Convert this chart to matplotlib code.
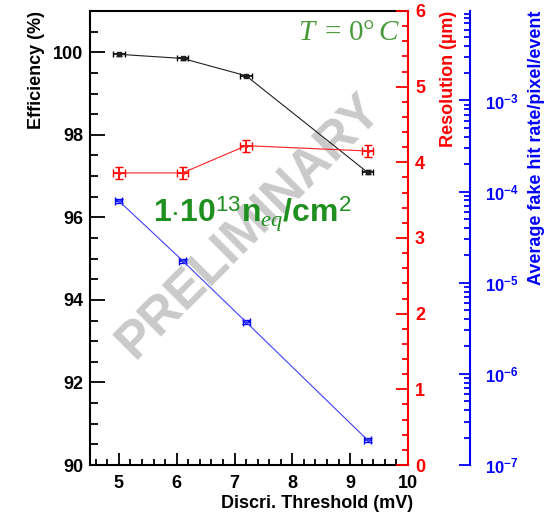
import numpy as np
import matplotlib
matplotlib.use("Agg")
import matplotlib.pyplot as plt
from matplotlib.ticker import MultipleLocator, LogLocator, NullFormatter

plt.rcParams['font.family'] = ['Liberation Sans', 'DejaVu Sans']
plt.rcParams['font.weight'] = 'bold'
plt.rcParams['mathtext.fontset'] = 'custom'
plt.rcParams['mathtext.rm'] = 'Liberation Sans:weight=normal'
plt.rcParams['mathtext.bf'] = 'Liberation Sans:weight=bold'
plt.rcParams['mathtext.it'] = 'Liberation Serif:italic:weight=normal'
plt.rcParams['mathtext.sf'] = 'Liberation Serif:weight=normal'

# data
threshold = [5.0, 6.1, 7.2, 9.3]
threshold_err = [0.1, 0.1, 0.1, 0.1]
efficiency = [99.95, 99.85, 99.43, 97.09]
efficiency_err = [0.03, 0.03, 0.03, 0.05]
resolution = [3.86, 3.86, 4.22, 4.15]
resolution_err = [0.08, 0.08, 0.08, 0.08]
fake_rate = [7.9e-5, 1.75e-5, 3.7e-6, 1.88e-7]
fake_rate_err = [4e-6, 9e-7, 2e-7, 1e-8]

fig = plt.figure(figsize=(5.58, 5.18), dpi=100)
ax = fig.add_axes([0.1613, 0.1023, 0.5699, 0.8765])

# efficiency (left, black)
ax.errorbar(threshold, efficiency, xerr=threshold_err, yerr=efficiency_err,
            color='#202020', ecolor='black', lw=0.8, elinewidth=1.2, capsize=2.5,
            marker='s', ms=2.5, zorder=3)
ax.set_xlim(4.5, 10)
ax.set_ylim(90, 101)
ax.xaxis.set_major_locator(MultipleLocator(1))
ax.xaxis.set_minor_locator(MultipleLocator(0.2))
ax.yaxis.set_major_locator(MultipleLocator(2))
ax.yaxis.set_minor_locator(MultipleLocator(0.5))
ax.tick_params(axis='both', which='both', direction='in', labelsize=13, width=1.3)
ax.tick_params(axis='y', which='major', length=11, pad=5)
ax.tick_params(axis='y', which='minor', length=6)
ax.tick_params(axis='x', which='major', length=9, pad=7)
ax.tick_params(axis='x', which='minor', length=4.5)
for s in ['left', 'bottom', 'top']:
    ax.spines[s].set_linewidth(1.5)
ax.spines['right'].set_visible(False)
ax.set_xlabel('Discri. Threshold (mV)', fontsize=13, fontweight='bold', loc='right')
ax.xaxis.set_label_coords(1.016, -0.066)
ax.set_ylabel('Efficiency (%)', fontsize=13, fontweight='bold', loc='top')
ax.yaxis.set_label_coords(-0.14, 1.0)

# resolution (first right axis, red)
ax2 = ax.twinx()
ax2.errorbar(threshold, resolution, xerr=threshold_err, yerr=resolution_err,
             color='#ff2020', ecolor='red', lw=0.8, elinewidth=1.3, capsize=3,
             marker='s', ms=2, zorder=3)
ax2.set_ylim(0, 6)
ax2.yaxis.set_major_locator(MultipleLocator(1))
ax2.yaxis.set_minor_locator(MultipleLocator(0.2))
ax2.tick_params(axis='y', which='both', direction='in', colors='red',
                labelsize=13, width=1.3, pad=5)
ax2.tick_params(axis='y', which='major', length=9)
ax2.tick_params(axis='y', which='minor', length=4.5)
for s in ['left', 'bottom', 'top']:
    ax2.spines[s].set_visible(False)
ax2.spines['right'].set_color('red')
ax2.spines['right'].set_linewidth(1.5)
ax2.set_ylabel('Resolution (\u00b5m)', color='red', fontsize=13, fontweight='bold', loc='top')
ax2.yaxis.set_label_coords(1.10, 1.0)

# fake hit rate (second right axis, blue, log)
ax3 = ax.twinx()
ax3.errorbar(threshold, fake_rate, xerr=[0.06] * 4, yerr=fake_rate_err,
             color='#4040ff', ecolor='blue', lw=0.8, elinewidth=1.3, capsize=3,
             marker='s', ms=2, zorder=3)
ax3.set_yscale('log')
ax3.set_ylim(1e-7, 9.6e-3)
ax3.spines['right'].set_position(('axes', 1.195))
for s in ['left', 'bottom', 'top']:
    ax3.spines[s].set_visible(False)
ax3.spines['right'].set_color('blue')
ax3.spines['right'].set_linewidth(1.5)
ax3.yaxis.set_major_locator(LogLocator(base=10, numticks=100))
ax3.yaxis.set_minor_locator(LogLocator(base=10, subs=np.arange(2, 10), numticks=100))
ax3.yaxis.set_minor_formatter(NullFormatter())
ax3.tick_params(axis='y', which='both', direction='in', colors='blue',
                labelsize=12, width=1.3, pad=11)
ax3.tick_params(axis='y', which='major', length=8)
ax3.tick_params(axis='y', which='minor', length=4)
ax3.set_ylabel('Average fake hit rate/pixel/event', color='blue', fontsize=13,
               fontweight='bold', loc='top')
ax3.yaxis.set_label_coords(1.377, 1.0)

# annotations
temp_label = r'$T\;\mathsf{=\,0' + '\u00b0' + r'}\,C$'
ax.text(0.975, 0.953, temp_label, transform=ax.transAxes, ha='right',
        va='center', fontsize=21, color='#4a9a3a', zorder=5)
ax.text(0.198, 0.535, r'$\mathbf{1{\cdot}10}^{13}\mathbf{n}_{eq}\mathbf{/cm}^{2}$',
        transform=ax.transAxes, ha='left', va='baseline', fontsize=23,
        color='#1f8f1f', zorder=5)
ax.text(0.50, 0.525, 'PRELIMINARY', transform=ax.transAxes, ha='center', va='center',
        rotation=45, fontsize=37, fontweight='bold', color='#c4c4c4', alpha=0.9, zorder=1)

fig.savefig('out.png', dpi=100)
